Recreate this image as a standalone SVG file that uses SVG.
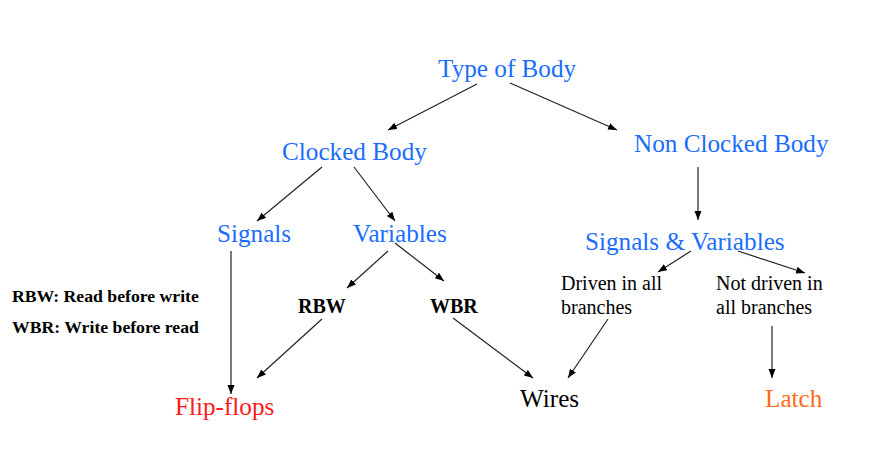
<svg xmlns="http://www.w3.org/2000/svg" width="872" height="454" viewBox="0 0 872 454">
<style>
.t{font-family:"Liberation Serif","Times New Roman",serif;font-size:25.2px}
.b{fill:#1a6dff}
.k{fill:#000}
.s{font-family:"Liberation Serif","Times New Roman",serif;font-size:20px;fill:#000}
.bold{font-weight:bold}
#connectors line{stroke:#222;stroke-width:1.2;marker-end:url(#ah)}
</style>
<defs>
<marker id="ah" markerUnits="userSpaceOnUse" markerWidth="10" markerHeight="8" refX="9" refY="3.5" orient="auto">
<path d="M0,0 L9,3.5 L0,7 z" fill="#000"/>
</marker>
</defs>
<rect width="872" height="454" fill="#fff"/>
<g id="connectors">
<line x1="477" y1="84" x2="388" y2="130"/>
<line x1="510" y1="83" x2="617" y2="130"/>
<line x1="322" y1="167" x2="257" y2="221"/>
<line x1="354" y1="167" x2="395" y2="221"/>
<line x1="698" y1="167" x2="698" y2="220"/>
<line x1="231" y1="251" x2="231" y2="394"/>
<line x1="388" y1="251" x2="347" y2="288"/>
<line x1="395" y1="243" x2="444" y2="281"/>
<line x1="691" y1="251" x2="658" y2="272"/>
<line x1="738" y1="251" x2="805" y2="273"/>
<line x1="322" y1="319" x2="257" y2="378"/>
<line x1="453" y1="318" x2="533" y2="378"/>
<line x1="608" y1="319" x2="568" y2="378"/>
<line x1="772" y1="326" x2="772" y2="378"/>
</g>
<g id="type-of-body"><text class="t b" x="438" y="77">Type of Body</text></g>
<g id="clocked-body"><text class="t b" x="282" y="160">Clocked Body</text></g>
<g id="non-clocked-body"><text class="t b" x="634" y="152">Non Clocked Body</text></g>
<g id="signals"><text class="t b" x="217" y="242">Signals</text></g>
<g id="variables"><text class="t b" x="353" y="242">Variables</text></g>
<g id="signals-variables"><text class="t b" x="585" y="250">Signals &amp; Variables</text></g>
<g id="rbw"><text class="s bold" x="298" y="313">RBW</text></g>
<g id="wbr"><text class="s bold" x="430" y="313">WBR</text></g>
<g id="driven"><text class="s" x="561" y="290">Driven in all</text><text class="s" x="561" y="314">branches</text></g>
<g id="not-driven"><text class="s" x="716" y="290">Not driven in</text><text class="s" x="716" y="314">all branches</text></g>
<g id="flip-flops"><text class="t" x="175" y="415" fill="#ff1a1a">Flip-flops</text></g>
<g id="wires"><text class="t k" x="520" y="407">Wires</text></g>
<g id="latch"><text class="t" x="765" y="407" fill="#ff6a1a">Latch</text></g>
<g id="legend">
<text class="s bold" x="12" y="302" style="font-size:17.7px">RBW: Read before write</text>
<text class="s bold" x="12" y="333" style="font-size:17.7px">WBR: Write before read</text>
</g>
</svg>
